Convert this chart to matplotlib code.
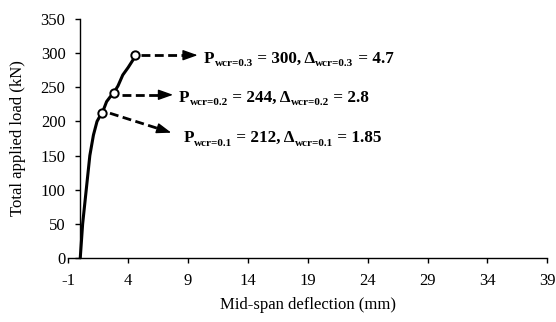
import numpy as np
import matplotlib.pyplot as plt

plt.rcParams['font.family'] = ['Liberation Serif', 'DejaVu Serif']
plt.rcParams['axes.unicode_minus'] = False

# load-deflection curve
defl = [0.0, 0.2, 0.5, 0.8, 1.1, 1.4, 1.65, 1.85, 2.2, 2.5, 2.8, 3.15, 3.55, 4.0, 4.4, 4.6]
load = [0, 50, 100, 150, 180, 200, 208, 213, 229, 236, 242, 252, 268, 279, 290, 297]

# cracking points (w_cr = 0.1, 0.2, 0.3)
pt_defl = [1.85, 2.8, 4.6]
pt_load = [213, 242, 297]
wcr = ['0.1', '0.2', '0.3']
p_vals = ['212', '244', '300']
d_vals = ['1.85', '2.8', '4.7']
# arrow start / tip and text anchor
arr_start = [(2.48, 212), (3.45, 239), (5.06, 297)]
arr_tip = [(7.6, 183.5), (7.75, 239), (9.8, 297)]
txt_pos = [(8.6, 170), (8.25, 229), (10.3, 286)]

xticks = np.arange(-1, 40, 5)
yticks = np.arange(0, 351, 50)

fig = plt.figure(figsize=(5.56, 3.22), dpi=100)
ax = fig.add_axes([0.1228, 0.1988, 0.8616, 0.7422])

ax.plot(defl, load, color='black', lw=2.2, zorder=3)
ax.plot(pt_defl, pt_load, 'o', ms=6, mfc='white', mec='black', mew=1.4, zorder=4)


def rich_label(x, y, parts, size=12.3, sub_size=8):
    # chain text pieces, subscripts smaller and lowered
    t = ax.text(x, y, parts[0][0], fontsize=size, fontweight='bold', va='baseline')
    main, prev = t, t
    for s, sub in parts[1:]:
        if sub:
            prev = ax.annotate(s, xy=(1, 0), xycoords=prev, xytext=(0.3, -1.2),
                               textcoords='offset points', fontsize=sub_size,
                               fontweight='bold', va='bottom')
        else:
            prev = ax.annotate(s, xy=(1, 0), xycoords=(prev, main), xytext=(0, 0),
                               textcoords='offset points', fontsize=size,
                               fontweight='bold', va='bottom')
            main = prev


for (x0, y0), (x1, y1), (tx, ty), w, p, d in zip(arr_start, arr_tip, txt_pos,
                                                 wcr, p_vals, d_vals):
    dx, dy = x1 - x0, y1 - y0
    ax.plot([x0, x0 + 0.8 * dx], [y0, y0 + 0.8 * dy], color='black', lw=2.0,
            dashes=(3.2, 1.6), zorder=3)
    ax.annotate('', xy=(x1, y1), xytext=(x0 + 0.75 * dx, y0 + 0.75 * dy),
                arrowprops=dict(arrowstyle='-|>,head_length=0.9,head_width=0.32',
                                color='black', lw=1.0, shrinkA=0, shrinkB=0))
    rich_label(tx, ty, [('P', False), ('wcr=' + w, True),
                        (' = ' + p + ', \u0394', False), ('wcr=' + w, True),
                        (' = ' + d, False)])

ax.set_xlim(-1, 39)
ax.set_ylim(0, 350)
ax.set_xticks(xticks)
ax.set_yticks(yticks)
ax.spines['left'].set_position(('data', 0))
ax.spines['top'].set_visible(False)
ax.spines['right'].set_visible(False)
ax.spines['left'].set_linewidth(1.0)
ax.spines['bottom'].set_linewidth(1.0)
ax.tick_params(direction='out', length=3.6, width=1.0, labelsize=12, pad=7)

ax.set_xlabel('Mid-span deflection (mm)', fontsize=12, labelpad=6)
fig.text(0.032, 0.57, 'Total applied load (kN)', fontsize=12, rotation=90,
         ha='center', va='center')

fig.savefig('out.png', dpi=100)
